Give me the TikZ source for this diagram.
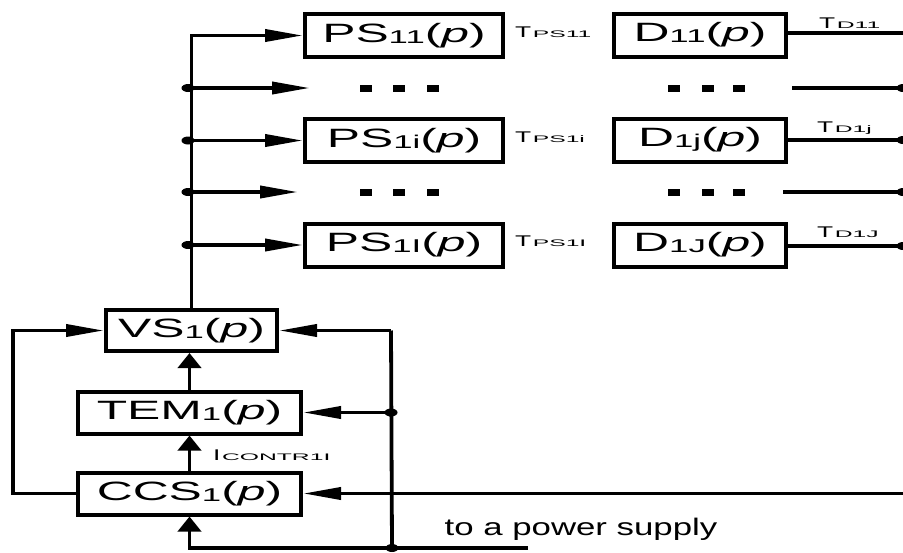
\documentclass[tikz,border=0pt]{standalone}
\usepackage{fontspec}
\usepackage{graphicx}
\setmainfont{Liberation Sans}
\usetikzlibrary{arrows.meta}
\newcommand{\blk}[2]{\scalebox{1.88}[1]{\fontsize{26.5}{28}\selectfont #1\raisebox{-1pt}{\fontsize{18.5}{20}\selectfont #2}(\textit{p})}}
\newcommand{\sig}[2]{\scalebox{1.7}[1]{\fontsize{15.5}{16}\selectfont #1}\hspace{1.5pt}\scalebox{2.6}[1]{\fontsize{9.5}{10}\selectfont #2}}
\tikzset{
  blockbox/.style={draw, line width=4pt, inner sep=0pt, minimum width=198pt, minimum height=43pt},
  dbox/.style={blockbox, minimum width=172pt},
  vsbox/.style={blockbox, minimum width=171pt, minimum height=41pt},
  lowbox/.style={blockbox, minimum width=223pt, minimum height=42pt},
  wire/.style={line width=3.8pt},
  twire/.style={line width=3.2pt},
  harr/.style={wire, -{Triangle[length=38pt,width=12pt]}},
  varr/.style={wire, -{Triangle[length=15pt,width=23pt]}},
  sigtext/.style={inner sep=0pt, anchor=base west},
}
\newcommand{\jdot}[1]{\fill (#1) ellipse [x radius=6.5pt, y radius=4pt];}
\begin{document}
\begin{tikzpicture}[x=1pt,y=-1pt]
\useasboundingbox (0,0) rectangle (903,552);
% blocks
\node[blockbox] (PS11) at (404,35.5) {\blk{PS}{11}};
\node[blockbox] (PS1i) at (404,140.5) {\blk{PS}{1i}};
\node[blockbox] (PS1I) at (404,245) {\blk{PS}{1I}};
\node[dbox] (D11) at (700,35) {\blk{D}{11}};
\node[dbox] (D1j) at (700,140) {\blk{D}{1j}};
\node[dbox] (D1J) at (700,245) {\blk{D}{1J}};
\node[vsbox] (VS) at (191.5,330.5) {\blk{VS}{1}};
\node[lowbox] (TEM) at (189.5,412.5) {\blk{TEM}{1}};
\node[lowbox] (CCS) at (189.5,493.5) {\blk{CCS}{1}};
% signal labels
\node[sigtext] (tps11) at (515,37) {\sig{T}{PS11}};
\node[sigtext] (tps1i) at (515,142) {\sig{T}{PS1i}};
\node[sigtext] (tps1I) at (515,246.5) {\sig{T}{PS1I}};
\node[sigtext] (td11) at (819,28) {\sig{T}{D11}};
\node[sigtext] (td1j) at (817,132) {\sig{T}{D1j}};
\node[sigtext] (td1J) at (817,237) {\sig{T}{D1J}};
\node[sigtext] (icontr) at (213,460) {\sig{I}{CONTR1I}};
\node[inner sep=0pt] (psup) at (581,529) {\scalebox{1.45}[1]{\fontsize{24}{26}\selectfont to a power supply}};
% bus
\coordinate (j1) at (191.5,88);
\coordinate (j2) at (191.5,140.5);
\coordinate (j3) at (191.5,192);
\coordinate (j4) at (191.5,245);
\coordinate (a1) at (310,88);
\coordinate (a3) at (298,192);
\draw[harr] (VS.north) |- (PS11.west);
\draw[harr] (j1) -- (a1);
\draw[harr] (j2) -- (PS1i.west);
\draw[harr] (j3) -- (a3);
\draw[harr] (j4) -- (PS1I.west);
\jdot{188,88}\jdot{188,140.5}\jdot{188,192}\jdot{188,245}
% ellipsis dashes
\foreach \y in {88,192}{
  \foreach \x in {360,393,427,668,702,733}{
    \fill (\x,\y-3.5) rectangle (\x+12,\y+3.5);
  }
}
% right outputs
\coordinate (r1) at (903,33);
\coordinate (r2) at (903,88);
\coordinate (r3) at (903,140);
\coordinate (r4) at (903,192);
\coordinate (r5) at (903,246);
\coordinate (s2) at (792,88);
\coordinate (s4) at (783,192);
\draw[twire] (D11.east |- r1) -- (r1);
\draw[twire] (s2) -- (r2);
\draw[twire] (D1j.east) -- (r3);
\draw[twire] (s4) -- (r4);
\draw[twire] (D1J.east |- r5) -- (r5);
\jdot{903,88}\jdot{903,140}\jdot{903,192}\jdot{903,246}
% lower loop
\coordinate (lb) at (13,493.5);
\coordinate (lt) at (13,330.5);
\draw[harr] (CCS.west) -- (lb) -- (lt) -- (VS.west);
\coordinate (rt) at (391,330.5);
\coordinate (rm) at (391,412.5);
\coordinate (rb) at (392,548);
\draw[harr] (rt) -- (VS.east);
\draw[wire] (rt) -- (rb);
\draw[harr] (rm) -- (TEM.east);
\jdot{391,412.5}
\coordinate (pse) at (528,548);
\coordinate (cb) at (189.5,548);
\draw[varr] (pse) -- (cb) -- (CCS.south);
\jdot{392,548}
\coordinate (ri) at (903,493.5);
\draw[harr] (ri) -- (CCS.east);
\draw[varr] (TEM.north) -- (TEM.north |- VS.south);
\draw[varr] (CCS.north) -- (TEM.south);
\end{tikzpicture}
\end{document}
